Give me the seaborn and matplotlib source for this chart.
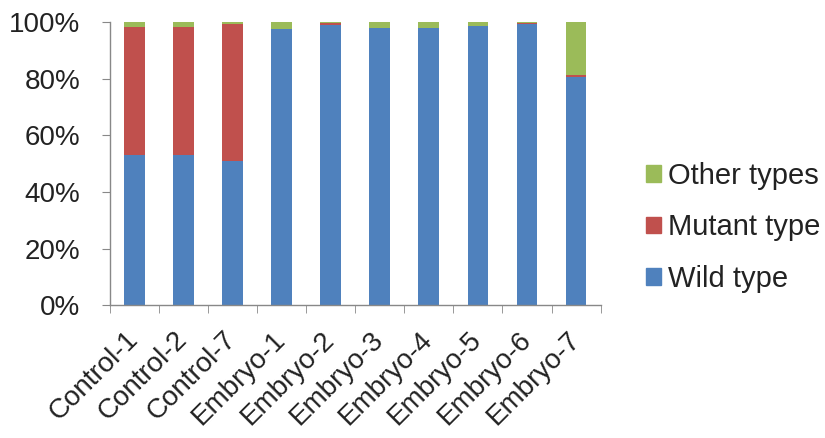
import pandas as pd
import seaborn as sns
import matplotlib.pyplot as plt
from matplotlib.patches import Patch
from matplotlib.ticker import PercentFormatter
from matplotlib.transforms import ScaledTranslation

# Дані (частки, %)
samples = ['Control-1', 'Control-2', 'Control-7', 'Embryo-1', 'Embryo-2',
           'Embryo-3', 'Embryo-4', 'Embryo-5', 'Embryo-6', 'Embryo-7']
wild_type = [53.0, 53.0, 51.0, 97.5, 99.0, 98.0, 98.0, 98.5, 99.2, 80.5]
mutant_type = [45.2, 45.2, 48.3, 0.0, 0.5, 0.0, 0.0, 0.0, 0.5, 0.7]
other_types = [1.8, 1.8, 0.7, 2.5, 0.5, 2.0, 2.0, 1.5, 0.3, 18.8]

df = pd.DataFrame({'Sample': samples, 'Wild': wild_type,
                   'Mutant': mutant_type, 'Other': other_types})
df['WildMutant'] = df['Wild'] + df['Mutant']
df['Total'] = df['WildMutant'] + df['Other']

blue, red, green = '#4F81BD', '#C0504D', '#9BBB59'

sns.set_style('white')
plt.rcParams['font.family'] = ['Liberation Sans', 'DejaVu Sans']

fig = plt.figure(figsize=(8.25, 4.38), dpi=100)
ax = fig.add_axes([0.133, 0.303, 0.595, 0.647])

# Складені стовпці: шари накладаються зверху вниз
for col, c in [('Total', green), ('WildMutant', red), ('Wild', blue)]:
    sns.barplot(data=df, x='Sample', y=col, color=c, width=0.42,
                saturation=1, linewidth=0, ax=ax)

ax.set_xlim(-0.5, len(samples) - 0.5)
ax.set_ylim(0, 100)
ax.set_yticks(range(0, 101, 20))
ax.yaxis.set_major_formatter(PercentFormatter(decimals=0))
ax.set_xlabel('')
ax.set_ylabel('')

# Осі у стилі Excel
for side in ['top', 'right']:
    ax.spines[side].set_visible(False)
for side in ['left', 'bottom']:
    ax.spines[side].set_color('#888888')
    ax.spines[side].set_linewidth(1.0)

ax.tick_params(axis='y', which='major', direction='out', length=6,
               color='#888888', labelsize=20, labelcolor='#222222', pad=15,
               left=True)
ax.tick_params(axis='x', which='major', length=0, labelsize=20,
               labelcolor='#222222', pad=14)
ax.set_xticks([i - 0.5 for i in range(len(samples) + 1)], minor=True)
ax.tick_params(axis='x', which='minor', direction='out', length=6,
               color='#888888', bottom=True)
shift = ScaledTranslation(-0.09, -0.02, fig.dpi_scale_trans)
for lbl in ax.get_xticklabels():
    lbl.set_rotation(45)
    lbl.set_ha('right')
    lbl.set_rotation_mode('anchor')
    lbl.set_transform(lbl.get_transform() + shift)

handles = [Patch(color=green, label='Other types'),
           Patch(color=red, label='Mutant type'),
           Patch(color=blue, label='Wild type')]
ax.legend(handles=handles, loc='center left', bbox_to_anchor=(1.04, 0.275),
          frameon=False, fontsize=21, handlelength=0.5, handleheight=0.5,
          handletextpad=0.25, labelspacing=0.8, labelcolor='#222222')

fig.savefig('out.png', dpi=100)
